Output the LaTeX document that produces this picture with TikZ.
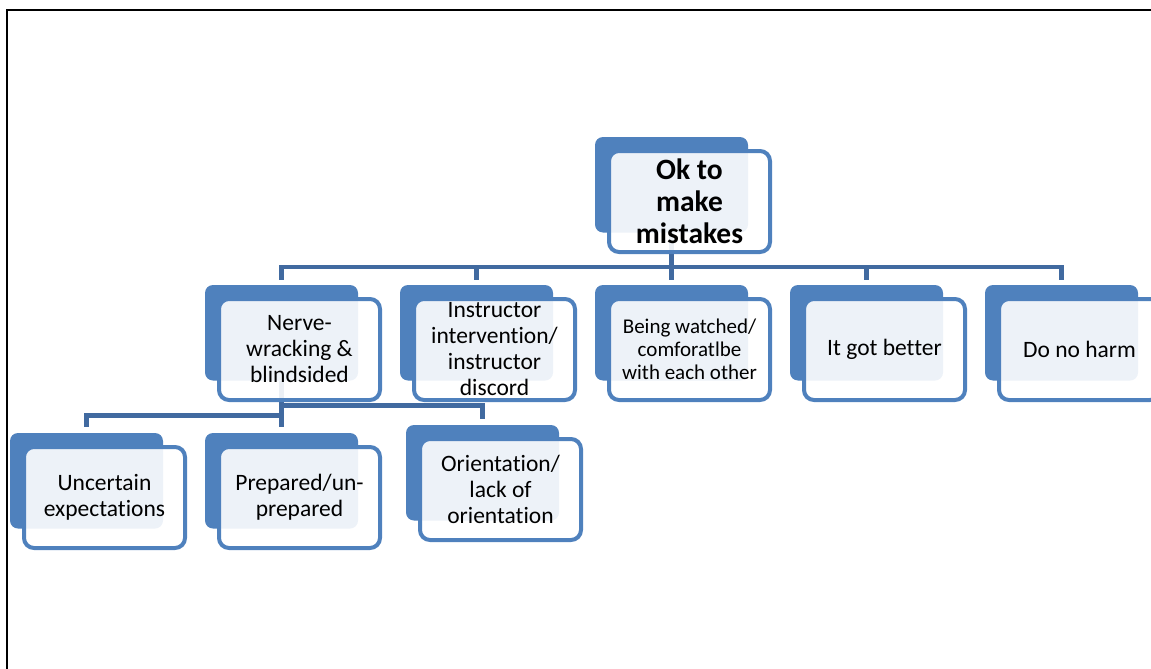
\documentclass[tikz,border=0pt]{standalone}
\usepackage{fontspec}
\setmainfont{Carlito}[Ligatures={NoCommon}]
\definecolor{boxblue}{RGB}{79,129,189}
\definecolor{connblue}{RGB}{65,106,160}
\pgfdeclarelayer{bg}
\pgfsetlayers{bg,main}
\tikzset{
  backbox/.style={fill=boxblue, rounded corners=8pt, minimum width=153pt, minimum height=95.5pt, inner sep=0pt},
  frontbox/.style={draw=boxblue, line width=4pt, fill=white, fill opacity=0.9, text opacity=1,
    rounded corners=10pt, minimum width=161pt, minimum height=101pt, inner sep=0pt,
    align=center, font=\fontsize{23.5}{26}\selectfont},
  conn/.style={draw=connblue, line width=4.8pt},
  frameline/.style={draw=black, line width=2pt},
}
\newcommand\smitem[5]{%
  \node[backbox] (#1) at (#2+76.5,#3+47.75) {};
  \node[frontbox,#5] (#1f) at (#2+94.5,#3+64.5) {#4};
}
\begin{document}
\begin{tikzpicture}[x=1pt,y=-1pt]
\useasboundingbox (0,0) rectangle (1151,669);
\draw[frameline] (7,669) -- (7,10) -- (1151,10);

\smitem{top}{595}{137}{Ok to\\make\\mistakes}{font=\fontsize{29.5}{32}\selectfont\bfseries}
\smitem{n1}{205}{285}{Nerve-\\wracking \&\\blindsided}{}
\smitem{n2}{400}{285}{Instructor\\intervention/\\instructor\\discord}{}
\smitem{n3}{595}{285}{Being watched/\\comforatlbe\\with each other}{font=\fontsize{21}{23}\selectfont}
\smitem{n4}{790}{285}{It got better}{}
\smitem{n5}{985}{285}{Do no harm}{}
\smitem{m1}{10}{433}{Uncertain\\expectations}{}
\smitem{m2}{205}{433}{Prepared/un-\\prepared}{}
\smitem{m3}{406}{425}{Orientation/\\lack of\\orientation}{}

\coordinate (bar) at (0,267);
\coordinate (bara) at (0,415.5);
\coordinate (barb) at (0,405.5);

\begin{pgfonlayer}{bg}
\foreach \c in {n1,n2,n3,n4,n5}
  \draw[conn] (top.south) -- (top.south |- bar) -| ([yshift=5pt]\c.north);
\draw[conn] (n1.south) -- (n1.south |- bara) -| ([yshift=6pt]m1.north);
\draw[conn] (n1.south) -- ([yshift=6pt]m2.north);
\draw[conn] (n1.south) -- (n1.south |- barb) -| ([yshift=6pt]m3.north);
\end{pgfonlayer}
\end{tikzpicture}
\end{document}
